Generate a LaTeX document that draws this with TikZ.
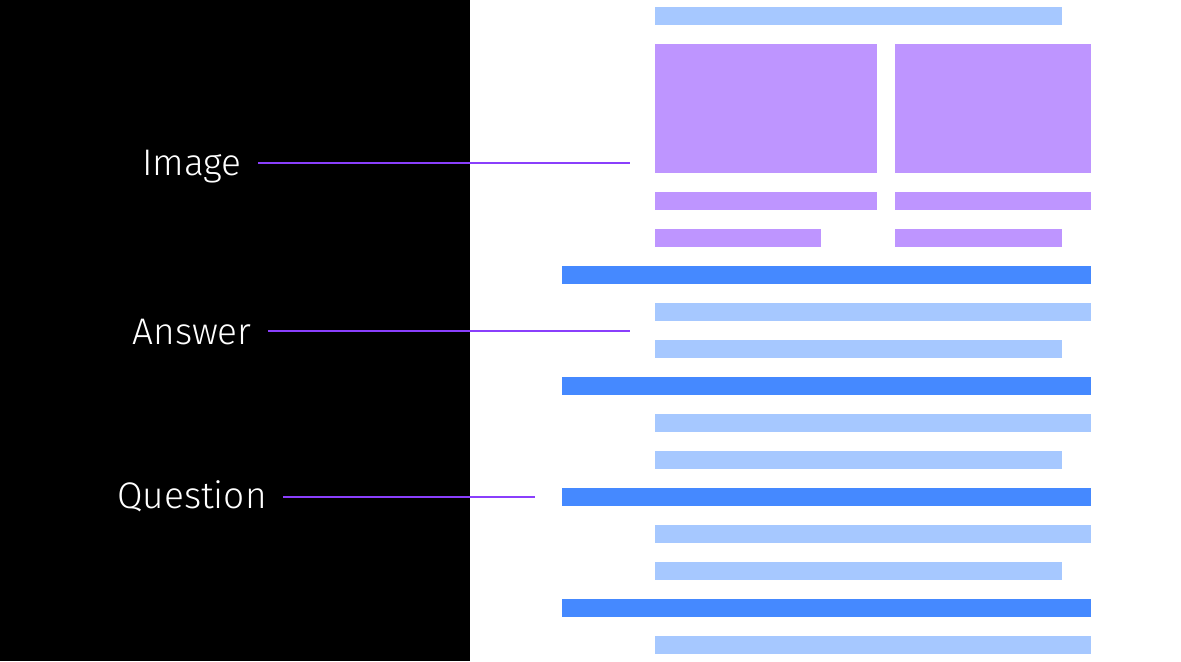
\documentclass[tikz,border=0pt]{standalone}
\usepackage{fontspec}
\setmainfont{Fira Sans}[UprightFont=* Light]
\usetikzlibrary{positioning}
\definecolor{leadpurple}{HTML}{8A3FFC}
\definecolor{imgpurple}{HTML}{BE95FF}
\definecolor{qblue}{HTML}{4589FF}
\definecolor{ablue}{HTML}{A6C8FF}

\begin{document}
\begin{tikzpicture}[
  x=0.5pt, y=-0.5pt,
  tag/.style={text=white, font=\fontsize{18.5}{22}\selectfont, inner xsep=8pt, anchor=base},
  lead/.style={draw=leadpurple, line width=0.6pt},
  qbar/.style={fill=qblue},
  abar/.style={fill=ablue},
  ibar/.style={fill=imgpurple}
]
\useasboundingbox (0,0) rectangle (1181,661);
\fill[black] (0,0) rectangle (470,661);
% image block
\fill[abar] (655,7) rectangle (1062,25);
\fill[ibar] (655,44) rectangle (877,173);
\fill[ibar] (895,44) rectangle (1091,173);
\fill[ibar] (655,192) rectangle (877,210);
\fill[ibar] (895,192) rectangle (1091,210);
\fill[ibar] (655,229) rectangle (821,247);
\fill[ibar] (895,229) rectangle (1062,247);
% question and answer rows
\foreach \y in {266,377,488,599} {
  \fill[qbar] (562,\y) rectangle (1091,\y+18);
  \fill[abar] (655,\y+37) rectangle (1091,\y+55);
}
\foreach \y in {340,451,562}
  \fill[abar] (655,\y) rectangle (1062,\y+18);
% labels
\node[tag] (image) at (192,175) {Image};
\node[tag] (answer) at (192,344) {Answer};
\node[tag] (question) at (192,508) {Question};
\coordinate (imageend) at (630,163);
\coordinate (answerend) at (630,331);
\coordinate (questionend) at (535,497);
\draw[lead] (image.east |- imageend) -- (imageend);
\draw[lead] (answer.east |- answerend) -- (answerend);
\draw[lead] (question.east |- questionend) -- (questionend);
\end{tikzpicture}
\end{document}
